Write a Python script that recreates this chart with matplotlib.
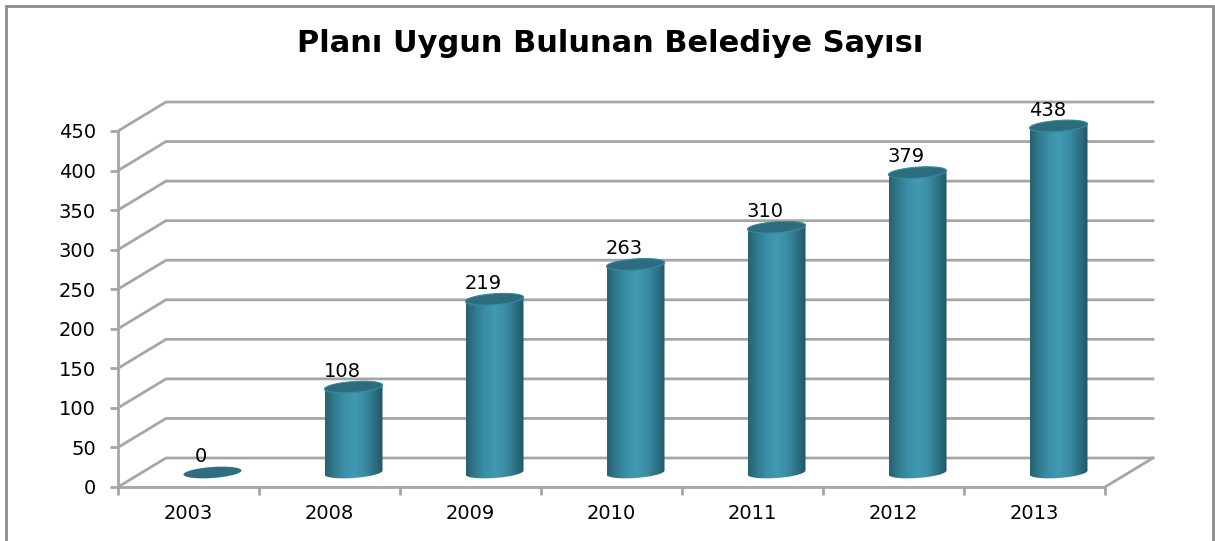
import numpy as np
import matplotlib
matplotlib.use("Agg")
import matplotlib.pyplot as plt
from matplotlib.colors import LinearSegmentedColormap
from matplotlib.patches import Polygon, Rectangle

# ---- data ----
categories = ["2003", "2008", "2009", "2010", "2011", "2012", "2013"]
values = [0, 108, 219, 263, 310, 379, 438]
yticks = [0, 50, 100, 150, 200, 250, 300, 350, 400, 450]
title = "Planı Uygun Bulunan Belediye Sayısı"

W, H = 1215, 541
fig = plt.figure(figsize=(W / 100, H / 100), dpi=100)

# pixel geometry of the front plane
px_left, px_right_front = 118, 1105
px_y0, px_y450 = 487, 131
ncat = len(categories)
ux = (px_right_front - px_left) / ncat          # px per category unit
uy = (px_y0 - px_y450) / 450.0                  # px per value unit
depth_dx = 48 / ux                              # depth offset in x units
depth_dy = 29 / uy                              # depth offset in value units

xmax = ncat + depth_dx + 0.1
ymax = 450 + depth_dy + 8
ax_left = px_left / W
ax_w = xmax * ux / W
ax_bottom = 1 - px_y0 / H
ax_h = ymax * uy / H
ax = fig.add_axes([ax_left, ax_bottom, ax_w, ax_h])
ax.set_xlim(0, xmax)
ax.set_ylim(0, ymax)
ax.set_facecolor("none")

grid_c = "#a6a6a6"
for sp in ["top", "right"]:
    ax.spines[sp].set_visible(False)
ax.spines["left"].set_bounds(0, 450)
ax.spines["bottom"].set_bounds(0, ncat)
for sp in ["left", "bottom"]:
    ax.spines[sp].set_color(grid_c)
    ax.spines[sp].set_linewidth(2)

ax.set_yticks(yticks)
ax.set_yticklabels([str(t) for t in yticks], fontsize=14, family="DejaVu Sans")
ax.set_xticks(np.arange(ncat + 1))
ax.set_xticklabels([])
ax.set_xticks(np.arange(ncat) + 0.5, minor=True)
ax.set_xticklabels(categories, minor=True, fontsize=14, family="DejaVu Sans")
ax.tick_params(axis="y", direction="out", length=6, width=2, color=grid_c, pad=10)
ax.tick_params(axis="x", which="major", direction="out", length=6, width=2, color=grid_c)
ax.tick_params(axis="x", which="minor", length=0, pad=12)

# gridlines with perspective
for t in yticks:
    ax.plot([0, depth_dx, ncat + depth_dx], [t, t + depth_dy, t + depth_dy],
            color=grid_c, lw=2, zorder=1, solid_joinstyle="miter")
# floor right edge
ax.plot([ncat, ncat + depth_dx], [0, depth_dy], color=grid_c, lw=2, zorder=1)

# cylinder
cmap = LinearSegmentedColormap.from_list(
    "cyl", ["#27616f", "#317c90", "#3b90a8", "#4199b2", "#3b8ea6", "#2e7588", "#205666"])
cyl_w = 58 / ux
ell_h = 11 / uy
tilt = 2.0 / uy
t = np.linspace(0, 2 * np.pi, 120)


def ellipse_pts(cx, cy, tt):
    return cx + cyl_w / 2 * np.cos(tt), cy + ell_h / 2 * np.sin(tt) + tilt * np.cos(tt)


grad = np.linspace(0, 1, 256).reshape(1, -1)
for i, v in enumerate(values):
    cx = i + 0.5 + depth_dx / 2
    base = depth_dy / 2
    top = v + base
    if v > 0:
        tb = np.linspace(np.pi, 2 * np.pi, 60)
        bx, by = ellipse_pts(cx, base, tb)
        tt = np.linspace(0, np.pi, 60)
        tx, ty = ellipse_pts(cx, top, tt)
        verts = np.column_stack([np.concatenate([bx, tx]), np.concatenate([by, ty])])
        body = Polygon(verts, closed=True, facecolor="none", edgecolor="none", zorder=3)
        ax.add_patch(body)
        im = ax.imshow(grad, cmap=cmap, aspect="auto",
                       extent=[cx - cyl_w / 2, cx + cyl_w / 2, base - ell_h, top + ell_h],
                       zorder=3, interpolation="bilinear")
        im.set_clip_path(body)
        ex, ey = ellipse_pts(cx, top, t)
        ax.add_patch(Polygon(np.column_stack([ex, ey]), closed=True,
                             facecolor="#2d6c7d", edgecolor="#3a8aa0", lw=0.8, zorder=4))
    else:
        ex, ey = ellipse_pts(cx, base, t)
        ax.add_patch(Polygon(np.column_stack([ex, ey]), closed=True,
                             facecolor="#2e6e80", edgecolor="none", zorder=4))
    ax.text(cx - 0.08, top + 20, str(v), ha="center", va="center", fontsize=14,
            family="DejaVu Sans", zorder=5)

ax.set_xlim(0, xmax)
ax.set_ylim(0, ymax)

fig.text(610 / W, 1 - 52 / H, title, ha="center", va="baseline", fontsize=22,
         fontweight="bold", family="DejaVu Sans")

# outer frame
fig.patches.append(Rectangle((6 / W, -0.01), (1213 - 6) / W, 1.01 - 6 / H,
                             transform=fig.transFigure, fill=False,
                             edgecolor="#8c8c8c", lw=2))

fig.savefig("out.png", dpi=100)
